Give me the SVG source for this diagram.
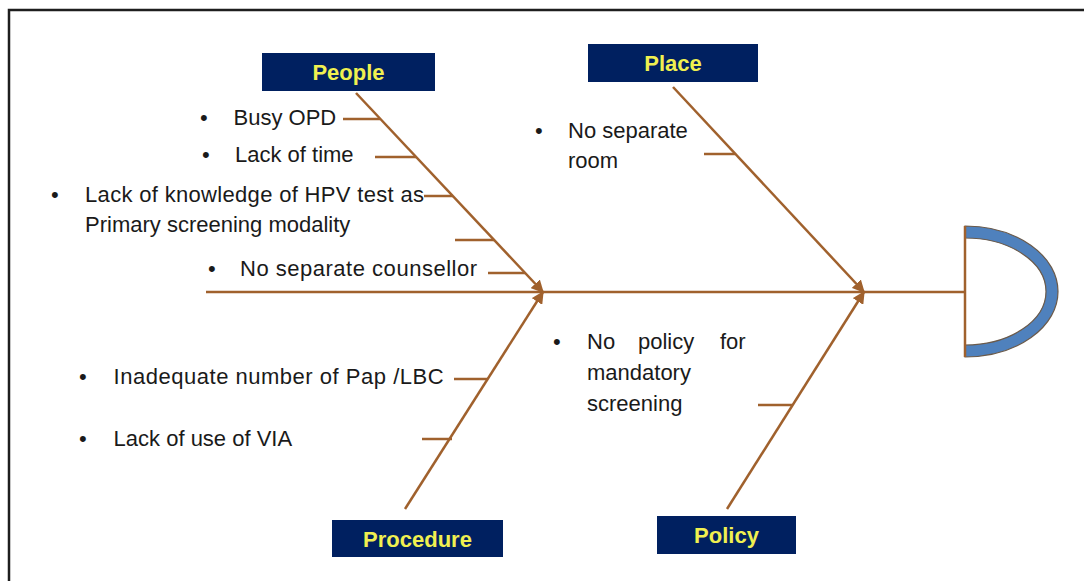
<svg xmlns="http://www.w3.org/2000/svg" width="1084" height="581" viewBox="0 0 1084 581">
<defs>
<marker id="arr" viewBox="0 0 10 10" refX="9" refY="5" markerWidth="5" markerHeight="5" orient="auto" markerUnits="strokeWidth">
<path d="M0,0 L10,5 L0,10 Z" fill="#A0612D"/>
</marker>
</defs>
<style>
.bone{stroke:#A0612D;stroke-width:2.5;fill:none}
.tick{stroke:#A0612D;stroke-width:2.5;fill:none}
.box{fill:#002060}
.lbl{font-family:"Liberation Sans",Arial,sans-serif;font-weight:bold;font-size:22px;fill:#F0F050;text-anchor:middle}
.t{font-family:"Liberation Sans",Arial,sans-serif;font-size:22px;fill:#1a1a1a}
</style>
<rect x="0" y="0" width="1084" height="581" fill="#ffffff"/>
<rect x="9" y="10" width="1100" height="600" fill="none" stroke="#1e1e1e" stroke-width="2.5"/>

<g id="connectors">
<line class="bone" x1="206" y1="292" x2="965" y2="292"/>
<line class="bone" x1="356" y1="93" x2="543" y2="292" marker-end="url(#arr)"/>
<line class="bone" x1="405" y1="509" x2="543" y2="292" marker-end="url(#arr)"/>
<line class="bone" x1="673" y1="87" x2="864" y2="292" marker-end="url(#arr)"/>
<line class="bone" x1="727" y1="509" x2="864" y2="292" marker-end="url(#arr)"/>
<line class="tick" x1="343" y1="119" x2="380" y2="119"/>
<line class="tick" x1="375" y1="157" x2="416" y2="157"/>
<line class="tick" x1="424" y1="196" x2="453" y2="196"/>
<line class="tick" x1="455" y1="240" x2="494" y2="240"/>
<line class="tick" x1="488" y1="273" x2="525" y2="273"/>
<line class="tick" x1="704" y1="154" x2="735" y2="154"/>
<line class="tick" x1="454" y1="379" x2="488" y2="379"/>
<line class="tick" x1="422" y1="439" x2="452" y2="439"/>
<line class="tick" x1="758" y1="405" x2="792" y2="405"/>
</g>

<g id="head">
<path d="M965,226 A93,65.5 0 0 1 965,357 L965,345 A81,53.5 0 0 0 965,238 Z" fill="#4F81BD" stroke="#6b5a4a" stroke-width="1.2"/>
<line class="bone" x1="965" y1="226" x2="965" y2="357"/>
</g>

<g id="people">
<rect class="box" x="262" y="53" width="173" height="38"/>
<text class="lbl" x="348.5" y="79.5">People</text>
</g>
<g id="place">
<rect class="box" x="588" y="44" width="170" height="38"/>
<text class="lbl" x="673" y="70.5">Place</text>
</g>
<g id="procedure">
<rect class="box" x="332" y="520" width="171" height="37"/>
<text class="lbl" x="417.5" y="546.5">Procedure</text>
</g>
<g id="policy">
<rect class="box" x="657" y="516" width="139" height="38"/>
<text class="lbl" x="726.5" y="542.5">Policy</text>
</g>

<g id="people-causes">
<text class="t" x="200" y="125">•</text><text class="t" x="233.5" y="125">Busy OPD</text>
<text class="t" x="202" y="161.5">•</text><text class="t" x="235" y="161.5">Lack of time</text>
<text class="t" x="51" y="201.5">•</text><text class="t" x="85" y="201.5" textLength="339">Lack of knowledge of HPV test as</text>
<text class="t" x="85" y="232">Primary screening modality</text>
<text class="t" x="208" y="276">•</text><text class="t" x="240" y="276" textLength="237">No separate counsellor</text>
</g>
<g id="place-causes">
<text class="t" x="535" y="137.5">•</text><text class="t" x="568" y="137.5">No separate</text>
<text class="t" x="568" y="168">room</text>
</g>
<g id="procedure-causes">
<text class="t" x="79" y="384">•</text><text class="t" x="113.6" y="384" textLength="330">Inadequate number of Pap /LBC</text>
<text class="t" x="79" y="445.5">•</text><text class="t" x="113.6" y="445.5">Lack of use of VIA</text>
</g>
<g id="policy-causes">
<text class="t" x="553" y="349">•</text>
<text class="t" x="587" y="349">No</text><text class="t" x="638" y="349">policy</text><text class="t" x="720" y="349">for</text>
<text class="t" x="587" y="380">mandatory</text>
<text class="t" x="587" y="410.5">screening</text>
</g>
</svg>
